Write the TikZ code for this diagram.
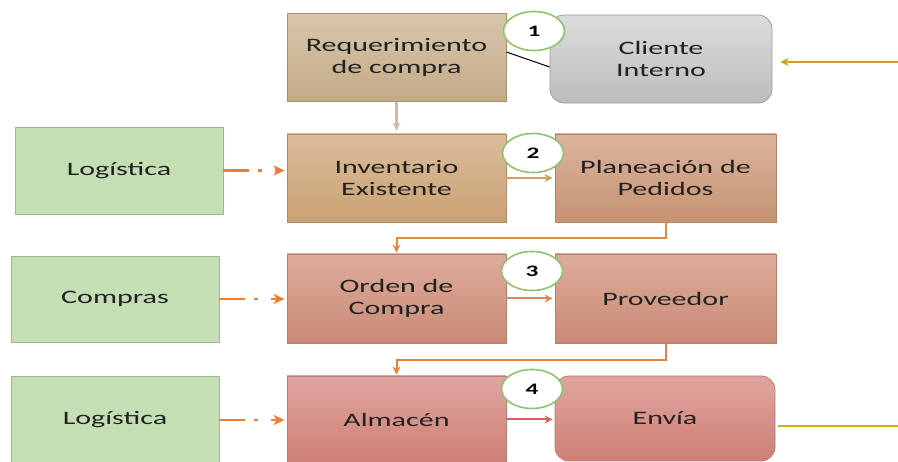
\documentclass[tikz,border=0pt]{standalone}
\usepackage{fontspec}
\setmainfont[FakeStretch=1.58]{Carlito}
\usetikzlibrary{shapes.geometric,arrows.meta}
\definecolor{txt}{HTML}{222222}
\definecolor{tanT}{HTML}{D8C6AC}\definecolor{tanB}{HTML}{C3AA86}\definecolor{tanD}{HTML}{A8916F}
\definecolor{gryT}{HTML}{DCDCDC}\definecolor{gryB}{HTML}{BDBDBD}\definecolor{gryD}{HTML}{9A9A9A}
\definecolor{invT}{HTML}{DDBC9C}\definecolor{invB}{HTML}{C9A273}\definecolor{invD}{HTML}{B08C66}
\definecolor{plaT}{HTML}{DCB49E}\definecolor{plaB}{HTML}{C69372}\definecolor{plaD}{HTML}{B0846C}
\definecolor{ordT}{HTML}{DDAC9A}\definecolor{ordB}{HTML}{C98A76}\definecolor{ordD}{HTML}{B38070}
\definecolor{almT}{HTML}{E0A4A0}\definecolor{almB}{HTML}{CD8075}\definecolor{almD}{HTML}{B87A72}
\definecolor{grnF}{HTML}{C4DFB4}\definecolor{grnD}{HTML}{9DB98C}
\definecolor{ring}{HTML}{8DC26F}
\definecolor{dash}{HTML}{ED7D31}
\definecolor{gold}{HTML}{CFA020}
\begin{document}
\begin{tikzpicture}[x=1pt,y=-1pt,
  pbox/.style n args={3}{draw=#1, line width=0.8pt, top color=#2, bottom color=#3,
    inner sep=0pt, align=center, text=txt, font=\fontsize{19}{21.5}\selectfont},
  gbox/.style={draw=grnD, line width=0.8pt, fill=grnF, inner sep=0pt, align=center,
    text=txt, font=\fontsize{19}{21.5}\selectfont},
  numring/.style={ellipse, draw=ring, line width=1.6pt, fill=white, minimum width=61pt,
    minimum height=39pt, inner sep=0pt, text=black, font=\fontsize{16}{18}\selectfont\bfseries},
  dashline/.style={draw=dash, line width=2.6pt, dash pattern=on 26pt off 9pt on 4pt off 60pt},
  dashtip/.style={draw=dash, line width=2.6pt, -{Stealth[length=11pt,width=10pt,inset=3pt]},
    shorten >=2pt, shorten <=52pt},
  conn/.style={draw=#1, line width=2pt, -{Stealth[length=8pt,width=8pt,inset=2.5pt]}},
]
\useasboundingbox (0,0) rectangle (898,462);

% boxes
\node[pbox={tanD}{tanT}{tanB}, minimum width=219pt, minimum height=88pt] (req) at (396.5,57.5) {Requerimiento\\de compra};
\node[pbox={gryD}{gryT}{gryB}, rounded corners=14pt, minimum width=222pt, minimum height=88pt] (cli) at (661,59) {Cliente\\Interno};
\node[gbox, minimum width=208pt, minimum height=87pt] (log1) at (119,170.5) {Logística};
\node[pbox={invD}{invT}{invB}, minimum width=219pt, minimum height=88pt] (inv) at (396.5,178) {Inventario\\Existente};
\node[pbox={plaD}{plaT}{plaB}, minimum width=221pt, minimum height=88pt] (pla) at (665.5,178) {Planeación de\\Pedidos};
\node[gbox, minimum width=208pt, minimum height=86pt] (com) at (115,299) {Compras};
\node[pbox={ordD}{ordT}{ordB}, minimum width=219pt, minimum height=89pt] (ord) at (396.5,298.5) {Orden de\\Compra};
\node[pbox={ordD}{ordT}{ordB}, minimum width=221pt, minimum height=89pt] (prov) at (665.5,298.5) {Proveedor};
\node[gbox, minimum width=208pt, minimum height=88pt] (log2) at (115,420) {Logística};
\node[pbox={almD}{almT}{almB}, minimum width=219pt, minimum height=87pt] (alm) at (396.5,419.5) {Almacén};
\node[pbox={almD}{almT}{almB}, rounded corners=14pt, minimum width=220pt, minimum height=85pt] (env) at (665,418.5) {Envía};

% free ends
\coordinate (in1) at (898,62);
\coordinate (out1) at (898,426);

% connectors
\draw[black, line width=1pt] ([yshift=5.5pt]req.east) -- ([yshift=-8pt]cli.west);
\draw[conn=gold, shorten >=8pt] (in1) -- (cli.east |- in1);
\draw[conn={tanB!80!white}, line width=2.6pt, shorten >=3pt] (req.south) -- (inv.north);
\draw[conn={invB!85!orange}, shorten >=2pt] (inv.east) -- (inv.east -| pla.west);
\draw[conn={plaB!60!orange}, shorten >=1pt] (pla.south) -- ++(0,16) -| (ord.north);
\draw[conn={ordB!70!orange}, shorten >=2pt] (ord.east) -- (ord.east -| prov.west);
\draw[conn={dash!85!ordB}, shorten >=1pt] (prov.south) -- ++(0,17) -| (alm.north);
\draw[conn={almB!75!red}, shorten >=2pt] (alm.east) -- (alm.east -| env.west);
\draw[gold!90!yellow, line width=1.6pt, shorten <=3pt] (env.east |- out1) -- (out1);

\draw[dashline] (log1.east) -- (log1.east -| inv.west);
\draw[dashtip] (log1.east) -- (log1.east -| inv.west);
\draw[dashline] (com.east) -- (com.east -| ord.west);
\draw[dashtip] (com.east) -- (com.east -| ord.west);
\draw[dashline] (log2.east) -- (log2.east -| alm.west);
\draw[dashtip] (log2.east) -- (log2.east -| alm.west);

% number rings
\node[numring] (n1) at (534,31) {1};
\node[numring] (n2) at (533,153) {2};
\node[numring] (n3) at (532,271) {3};
\node[numring] (n4) at (532,389) {4};
\end{tikzpicture}
\end{document}
